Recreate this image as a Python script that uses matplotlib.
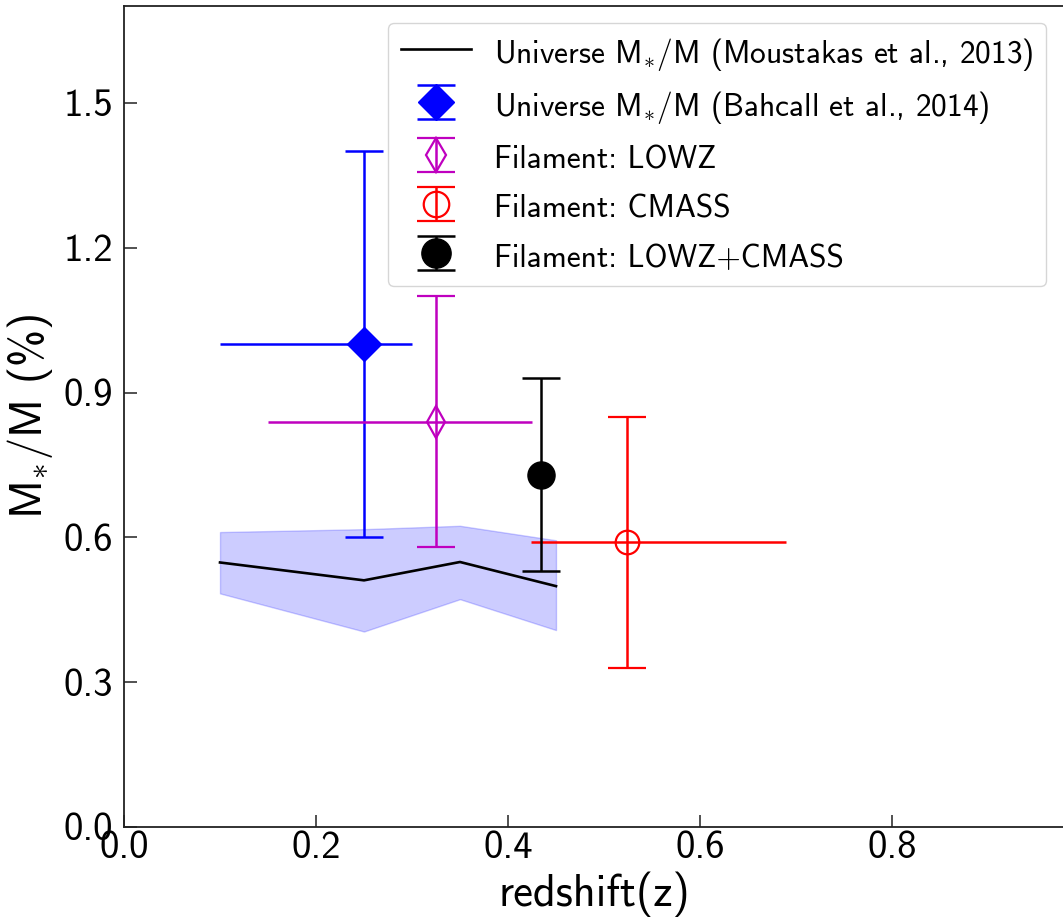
import matplotlib
matplotlib.use("Agg")
import matplotlib.pyplot as plt
from matplotlib.legend_handler import HandlerErrorbar
from matplotlib.container import ErrorbarContainer

plt.rcParams['font.family'] = ['cmss10', 'DejaVu Sans']
plt.rcParams['mathtext.fontset'] = 'custom'
plt.rcParams['mathtext.rm'] = 'cmss10'
plt.rcParams['mathtext.it'] = 'cmss10'
plt.rcParams['mathtext.bf'] = 'cmss10'
plt.rcParams['axes.formatter.use_mathtext'] = False

# Moustakas et al. 2013 (universe stellar mass fraction)
mou_z = [0.10, 0.25, 0.35, 0.45]
mou_frac = [0.548, 0.511, 0.549, 0.499]
mou_lo = [0.484, 0.405, 0.472, 0.408]
mou_hi = [0.611, 0.617, 0.624, 0.594]

# Bahcall et al. 2014
bah_z = [0.25]
bah_frac = [1.00]
bah_zlo, bah_zhi = [0.15], [0.05]
bah_flo, bah_fhi = [0.40], [0.40]

# Filament LOWZ
lowz_z = [0.325]
lowz_frac = [0.84]
lowz_zlo, lowz_zhi = [0.175], [0.10]
lowz_flo, lowz_fhi = [0.26], [0.26]

# Filament CMASS
cm_z = [0.524]
cm_frac = [0.59]
cm_zlo, cm_zhi = [0.10], [0.166]
cm_flo, cm_fhi = [0.26], [0.26]

# Filament LOWZ+CMASS
all_z = [0.434]
all_frac = [0.73]
all_flo, all_fhi = [0.20], [0.20]

labels = [r'Universe M$_{\ast}$/M (Moustakas et al., 2013)',
          r'Universe M$_{\ast}$/M (Bahcall et al., 2014)',
          'Filament: LOWZ', 'Filament: CMASS', 'Filament: LOWZ+CMASS']
xticks = [0.0, 0.2, 0.4, 0.6, 0.8]
yticks = [0.0, 0.3, 0.6, 0.9, 1.2, 1.5]

W, H = 1063, 923
XMAX, YMAX = 0.98, 1.7
fig = plt.figure(figsize=(W / 100, H / 100), dpi=100)
ax = fig.add_axes([124 / W, 96 / H, 960 * XMAX / W, 482.7 * YMAX / H])

ax.fill_between(mou_z, mou_lo, mou_hi, color='b', alpha=0.2)
l1, = ax.plot(mou_z, mou_frac, color='k', lw=1.9)

elw = 1.8
xkw = dict(fmt='none', elinewidth=elw, capsize=0)
ykw = dict(elinewidth=elw, capsize=13.5, capthick=elw, ls='none')

ax.errorbar(bah_z, bah_frac, xerr=[bah_zlo, bah_zhi], ecolor='b', **xkw)
e1 = ax.errorbar(bah_z, bah_frac, yerr=[bah_flo, bah_fhi],
                 fmt='D', color='b', ms=17, **ykw)
ax.errorbar(lowz_z, lowz_frac, xerr=[lowz_zlo, lowz_zhi], ecolor='m', **xkw)
e2 = ax.errorbar(lowz_z, lowz_frac, yerr=[lowz_flo, lowz_fhi],
                 fmt='d', color='m', mfc='none', mec='m', mew=1.6, ms=16, **ykw)
ax.errorbar(cm_z, cm_frac, xerr=[cm_zlo, cm_zhi], ecolor='r', **xkw)
e3 = ax.errorbar(cm_z, cm_frac, yerr=[cm_flo, cm_fhi],
                 fmt='o', color='r', mfc='none', mec='r', mew=1.6, ms=17, **ykw)
e4 = ax.errorbar(all_z, all_frac, yerr=[all_flo, all_fhi],
                 fmt='o', color='k', ms=19.5, **ykw)

ax.set_xlim(0, XMAX)
ax.set_ylim(0, YMAX)
ax.set_xticks(xticks)
ax.set_xticklabels([f'{v:.1f}' for v in xticks])
ax.set_yticks(yticks)
ax.set_yticklabels([f'{v:.1f}' for v in yticks])
ax.tick_params(direction='in', length=9, width=1.1, labelsize=28, color='#222222')
ax.tick_params(axis='y', pad=8)
ax.tick_params(axis='x', pad=3)
for s in ax.spines.values():
    s.set_linewidth(1.3)
    s.set_color('#222222')

ax.set_xlabel('redshift(z)', fontsize=32, labelpad=4)
ax.set_ylabel(r'M$_{\ast}$/M (%)', fontsize=32, labelpad=6)

hm = {ErrorbarContainer: HandlerErrorbar(yerr_size=0.54)}
leg = ax.legend(handles=[l1, e1, e2, e3, e4], labels=labels, handler_map=hm,
                loc='upper left', bbox_to_anchor=(388 / W, (H - 23) / H),
                bbox_transform=fig.transFigure, borderaxespad=0,
                fontsize=22.6, handlelength=2.26, handletextpad=0.72,
                handleheight=1.3, labelspacing=0.48, markerscale=1.08,
                fancybox=True, framealpha=0.8, edgecolor='0.8')

fig.savefig('out.png', dpi=100)
